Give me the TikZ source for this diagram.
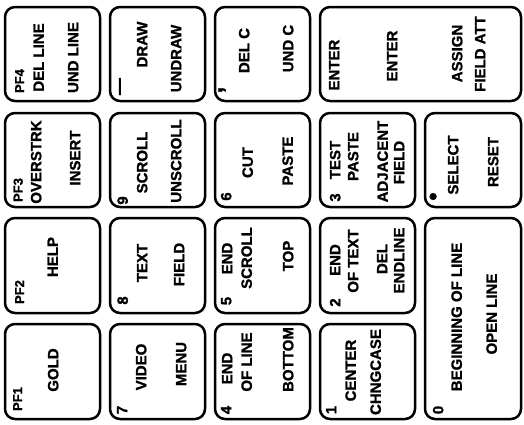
\documentclass[tikz,border=0pt]{standalone}
\usepackage{fontspec}
\setmainfont{Liberation Sans}[BoldFeatures={FakeBold=1.2}]
\begin{document}
\begin{tikzpicture}[x=1pt,y=-1pt,
  keybox/.style={draw=black, line width=2.5pt, rounded corners=10pt, inner sep=0pt, minimum width=95pt, minimum height=94pt},
  lbl/.style={rotate=90, inner sep=0pt, font=\bfseries\fontsize{15}{18}\selectfont, text height=10.7pt, text depth=0pt, anchor=center},
  sml/.style={lbl, font=\bfseries\fontsize{13}{15}\selectfont, text height=9.3pt},
  sym/.style={rotate=90, inner sep=0pt, anchor=base}]
\useasboundingbox (0,0) rectangle (524,424);
% keys
\node[keybox] (kpf4) at (52.5,54) {};
\node[keybox] (kpf3) at (52.5,160) {};
\node[keybox, minimum height=95pt] (kpf2) at (52.5,265.5) {};
\node[keybox, minimum height=95pt] (kpf1) at (52.5,371.5) {};
\node[keybox] (kminus) at (157.5,54) {};
\node[keybox] (k9) at (157.5,160) {};
\node[keybox, minimum height=95pt] (k8) at (157.5,265.5) {};
\node[keybox, minimum height=95pt] (k7) at (157.5,371.5) {};
\node[keybox] (kcomma) at (262.5,54) {};
\node[keybox] (k6) at (262.5,160) {};
\node[keybox, minimum height=95pt] (k5) at (262.5,265.5) {};
\node[keybox, minimum height=95pt] (k4) at (262.5,371.5) {};
\node[keybox, minimum width=201pt] (kenter) at (420.5,54) {};
\node[keybox] (k3) at (367.5,160) {};
\node[keybox, minimum height=95pt] (k2) at (367.5,265.5) {};
\node[keybox, minimum height=95pt] (k1) at (367.5,371.5) {};
\node[keybox, minimum width=96pt] (kdot) at (473,160) {};
\node[keybox, minimum width=96pt, minimum height=201pt] (k0) at (473,318.5) {};
% column 1
\node[sml] (tpf4) at (19.5,81) {PF4};
\node[lbl] (tdelline) at (38.5,57.5) {DEL LINE};
\node[lbl] (tundline) at (73,57.5) {UND LINE};
\node[sml] (tpf3) at (18,190) {PF3};
\node[lbl] (tover) at (36,162) {OVERSTRK};
\node[lbl] (tinsert) at (75,158) {INSERT};
\node[sml] (tpf2) at (19.5,292) {PF2};
\node[lbl] (thelp) at (52.5,257) {HELP};
\node[sml] (tpf1) at (17.5,399) {PF1};
\node[lbl] (tgold) at (53,370) {GOLD};
% column 2
\node[sym, font=\bfseries\fontsize{17}{18}\selectfont] (tdash) at (124.5,86.5) {—};
\node[lbl] (tdraw) at (142,44.5) {DRAW};
\node[lbl] (tundraw) at (176,58.5) {UNDRAW};
\node[lbl] (t9) at (122.5,200.5) {9};
\node[lbl] (tscroll) at (142,162.5) {SCROLL};
\node[lbl] (tunscroll) at (176,161) {UNSCROLL};
\node[lbl] (t8) at (122.5,300.5) {8};
\node[lbl] (ttext) at (142,263) {TEXT};
\node[lbl] (tfield8) at (179,264.5) {FIELD};
\node[lbl] (t7) at (122,410) {7};
\node[lbl] (tvideo) at (141,367) {VIDEO};
\node[lbl] (tmenu) at (181,364) {MENU};
% column 3
\node[sym, font=\bfseries\fontsize{24}{26}\selectfont] (tcomma) at (222,90) {,};
\node[lbl] (tdelc) at (244,50.5) {DEL C};
\node[lbl] (tundc) at (288,48.5) {UND C};
\node[lbl] (t6) at (226,196.5) {6};
\node[lbl] (tcut) at (247.5,162.5) {CUT};
\node[lbl] (tpaste6) at (287.5,161) {PASTE};
\node[lbl] (t5) at (226,301) {5};
\node[lbl] (tend5) at (227,258.5) {END};
\node[lbl] (tscroll5) at (246.5,258) {SCROLL};
\node[lbl] (ttop) at (288,256) {TOP};
\node[lbl] (t4) at (226,410) {4};
\node[lbl] (tend4) at (227,368.5) {END};
\node[lbl] (tofline) at (246.5,362) {OF LINE};
\node[lbl] (tbottom) at (288,359.5) {BOTTOM};
% column 4
\node[lbl] (tenter1) at (334,65) {ENTER};
\node[lbl] (tenter2) at (392,56) {ENTER};
\node[lbl] (tassign) at (457,53.5) {ASSIGN};
\node[lbl] (tfieldatt) at (480,54) {FIELD ATT};
\node[lbl] (t3) at (335,197.5) {3};
\node[lbl] (ttest) at (335,160) {TEST};
\node[lbl] (tpaste3) at (353,156.5) {PASTE};
\node[lbl] (tadj) at (382.5,161.5) {ADJACENT};
\node[lbl] (tfield3) at (399,162.5) {FIELD};
\node[lbl] (t2) at (335,302.5) {2};
\node[lbl] (tend2) at (335,260) {END};
\node[lbl] (toftext) at (353,261) {OF TEXT};
\node[lbl] (tdel2) at (382,259) {DEL};
\node[lbl] (tendline) at (399,260.5) {ENDLINE};
\node[lbl] (t1) at (331,410) {1};
\node[lbl] (tcenter) at (350.5,370.5) {CENTER};
\node[lbl] (tchng) at (375.5,372) {CHNGCASE};
% column 5
\node[sym, font=\bfseries\fontsize{24}{26}\selectfont] (tdot) at (441,196.5) {•};
\node[lbl] (tselect) at (453,165) {SELECT};
\node[lbl] (treset) at (493,162) {RESET};
\node[lbl] (t0) at (438,410) {0};
\node[lbl] (tbegin) at (456.5,317) {BEGINNING OF LINE};
\node[lbl] (topen) at (491.5,314) {OPEN LINE};
\end{tikzpicture}
\end{document}
